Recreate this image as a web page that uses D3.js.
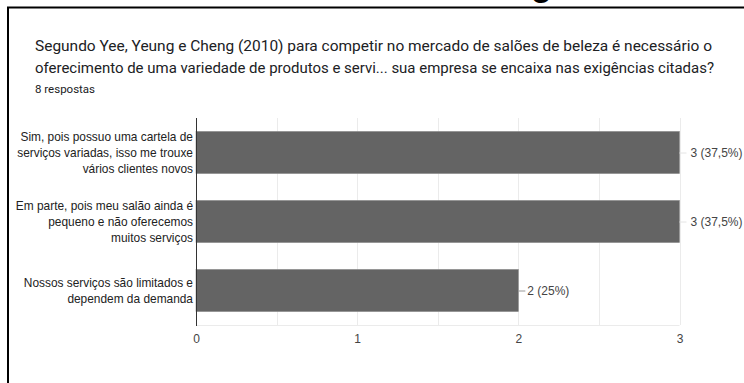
<!DOCTYPE html>
<html>
<head>
<meta charset="utf-8">
<script src="https://cdn.jsdelivr.net/npm/d3@7"></script>
<style>
  html, body { margin: 0; padding: 0; background: #fff; }
  svg { display: block; }
</style>
</head>
<body>
<svg id="chart" width="744" height="383"></svg>
<script>
// Survey question and answer data
const titleLines = [
  "Segundo Yee, Yeung e Cheng (2010) para competir no mercado de salões de beleza é necessário o",
  "oferecimento de uma variedade de produtos e servi... sua empresa se encaixa nas exigências citadas?"
];
const titleWidths = [677, 679];
const responsesLabel = "8 respostas";
const categories = [
  ["Sim, pois possuo uma cartela de", "serviços variadas, isso me trouxe", "vários clientes novos"],
  ["Em parte, pois meu salão ainda é", "pequeno e não oferecemos", "muitos serviços"],
  ["Nossos serviços são limitados e", "dependem da demanda"]
];
const counts = [3, 3, 2];
const valueLabels = ["3 (37,5%)", "3 (37,5%)", "2 (25%)"];
const xTicks = [0, 1, 2, 3];
const gridSteps = [0.5, 1, 1.5, 2, 2.5, 3];

const svg = d3.select("#chart");

// Card frame (black outline, partially out of view)
svg.append("line").attr("x1", 8).attr("x2", 8).attr("y1", 7).attr("y2", 383)
  .attr("stroke", "#000").attr("stroke-width", 2);
svg.append("line").attr("x1", 7).attr("x2", 744).attr("y1", 7.5).attr("y2", 7.5)
  .attr("stroke", "#000").attr("stroke-width", 2);
// descender of a heading letter cut off above the card
svg.append("text").attr("x", 531).attr("y", -4)
  .attr("font-family", "Arial, 'Liberation Sans', sans-serif")
  .attr("font-weight", "bold").attr("font-size", 34).attr("fill", "#000").text("g");

// Title
const title = svg.append("g").attr("font-family", "Roboto, sans-serif").attr("fill", "#202124");
title.selectAll("text.t").data(titleLines).join("text")
  .attr("class", "t")
  .attr("x", 35)
  .attr("y", (d, i) => 51 + i * 22)
  .attr("font-size", 15.5)
  .attr("textLength", (d, i) => titleWidths[i])
  .attr("lengthAdjust", "spacingAndGlyphs")
  .text(d => d);
title.append("text").attr("x", 35).attr("y", 93).attr("font-size", 11.5).text(responsesLabel);

// Scales
const x = d3.scaleLinear().domain([0, 3]).range([196, 679.5]);
const y = d3.scaleBand().domain(d3.range(categories.length)).range([118, 325]).paddingInner(0.39).paddingOuter(0.195);

const plot = svg.append("g");

// Gridlines
plot.selectAll("line.grid").data(gridSteps).join("line")
  .attr("class", "grid")
  .attr("x1", d => Math.round(x(d)) + 0.5).attr("x2", d => Math.round(x(d)) + 0.5)
  .attr("y1", 118).attr("y2", 325)
  .attr("stroke", "#ebebeb").attr("stroke-width", 1);
plot.append("line").attr("x1", x(0)).attr("x2", x(3)).attr("y1", 325.5).attr("y2", 325.5)
  .attr("stroke", "#ebebeb");

// Bars
plot.selectAll("rect.bar").data(counts).join("rect")
  .attr("class", "bar")
  .attr("x", x(0))
  .attr("y", (d, i) => y(i))
  .attr("width", d => x(d) - x(0))
  .attr("height", y.bandwidth())
  .attr("fill", "#646464")
  .attr("stroke", "#8a8a8a").attr("stroke-width", 0.6);

// Vertical baseline axis
plot.append("line").attr("x1", 196.5).attr("x2", 196.5).attr("y1", 118).attr("y2", 326)
  .attr("stroke", "#333").attr("stroke-width", 1);

// Value annotations with short stems
const ann = plot.selectAll("g.ann").data(counts).join("g").attr("class", "ann");
ann.append("line")
  .attr("x1", d => x(d)).attr("x2", d => x(d) + 7)
  .attr("y1", (d, i) => y(i) + y.bandwidth() / 2 + 0.5)
  .attr("y2", (d, i) => y(i) + y.bandwidth() / 2 + 0.5)
  .attr("stroke", (d, i) => d === 3 ? "#e4e4e4" : "#999");
ann.append("text")
  .attr("x", d => x(d) + (d === 3 ? 11 : 9))
  .attr("y", (d, i) => y(i) + y.bandwidth() / 2 + 4.5)
  .attr("font-family", "Arial, 'Liberation Sans', sans-serif")
  .attr("font-size", 12).attr("fill", "#444")
  .text((d, i) => valueLabels[i]);

// Category labels (multi-line, right aligned)
const catG = plot.selectAll("text.cat").data(categories).join("text")
  .attr("class", "cat")
  .attr("text-anchor", "end")
  .attr("font-family", "Arial, 'Liberation Sans', sans-serif")
  .attr("font-size", 11.9).attr("fill", "#222");
catG.each(function(lines, i) {
  const c = y(i) + y.bandwidth() / 2;
  const step = 16;
  const first = c + 4 - step * (lines.length - 1) / 2;
  d3.select(this).selectAll("tspan").data(lines).join("tspan")
    .attr("x", 193)
    .attr("y", (l, j) => first + j * step)
    .text(l => l);
});

// X axis tick labels
const xAxis = d3.axisBottom(x).tickValues(xTicks).tickSize(0).tickPadding(0).tickFormat(d3.format("d"));
const axG = svg.append("g").attr("transform", "translate(0,334)").call(xAxis);
axG.select(".domain").remove();
axG.selectAll("text")
  .attr("font-family", "Arial, 'Liberation Sans', sans-serif")
  .attr("font-size", 12).attr("fill", "#444").attr("dy", "0.71em");
</script>
</body>
</html>
